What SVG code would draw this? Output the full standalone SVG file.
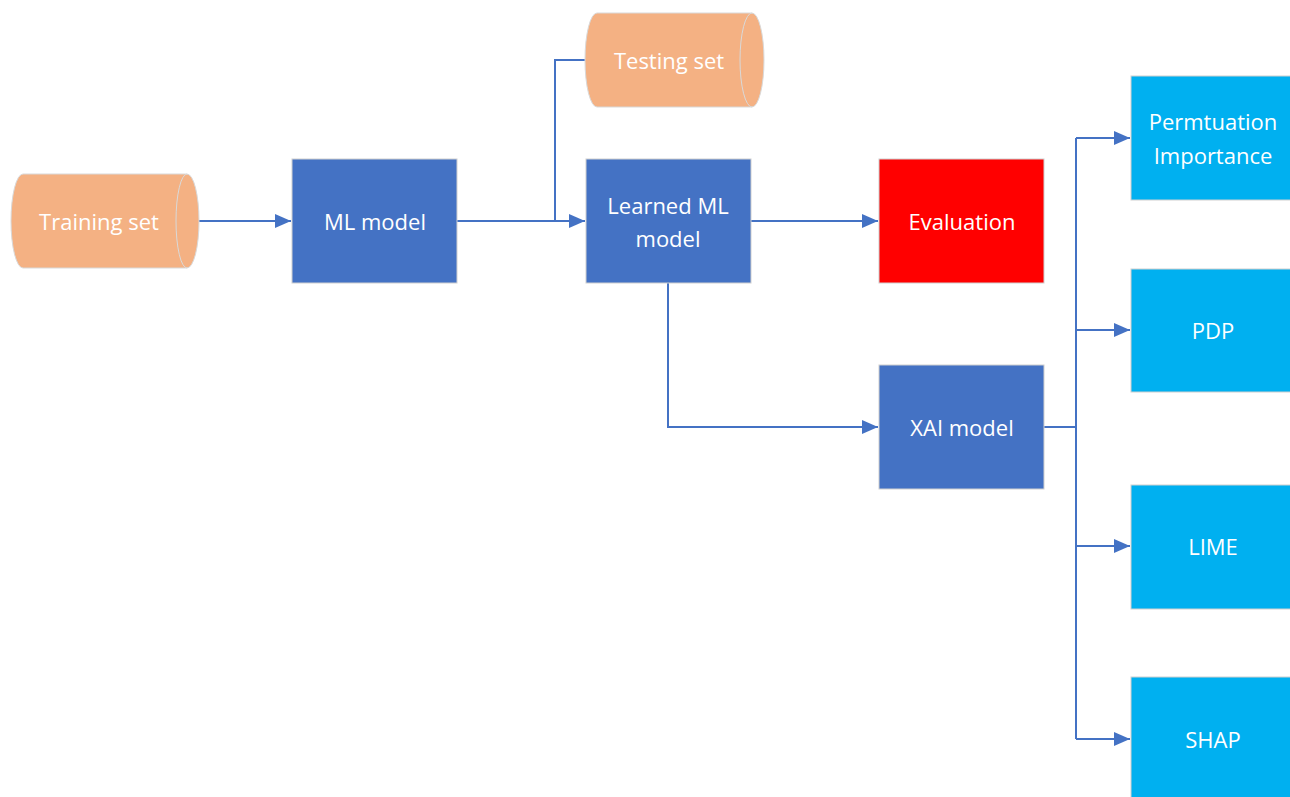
<svg xmlns="http://www.w3.org/2000/svg" width="1290" height="797" viewBox="0 0 1290 797">
<style>
.cyl{fill:#F4B183;stroke:#D9D9D9;stroke-width:1}
.inner{fill:none;stroke:#D9D9D9;stroke-width:1}
.blue{fill:#4472C4;stroke:#D0D0D0;stroke-width:1}
.red{fill:#FF0000;stroke:#D0D0D0;stroke-width:1}
.cyan{fill:#00B0F0;stroke:#D0D0D0;stroke-width:1}
.t{font-family:"Open Sans","Noto Sans",sans-serif;font-size:22px;fill:#FFFFFF;text-anchor:middle;dominant-baseline:central}
.c{fill:none;stroke:#4472C4;stroke-width:2}
</style>
<defs>
<marker id="ah" markerWidth="16" markerHeight="14" refX="16" refY="7" orient="auto" markerUnits="userSpaceOnUse">
<path d="M0,0 L16,7 L0,14 Z" fill="#4472C4"/>
</marker>
</defs>
<rect width="1290" height="797" fill="#FFFFFF"/>
<g id="connectors">
<path class="c" d="M187,221 L291,221" marker-end="url(#ah)"/>
<path class="c" d="M457,221 L585,221" marker-end="url(#ah)"/>
<path class="c" d="M585,60 L555,60 L555,221"/>
<path class="c" d="M751,221 L878,221" marker-end="url(#ah)"/>
<path class="c" d="M668,283 L668,427 L878,427" marker-end="url(#ah)"/>
<path class="c" d="M1044,427 L1076,427"/>
<path class="c" d="M1076,138 L1076,739"/>
<path class="c" d="M1076,138 L1130,138" marker-end="url(#ah)"/>
<path class="c" d="M1076,330 L1130,330" marker-end="url(#ah)"/>
<path class="c" d="M1076,546 L1130,546" marker-end="url(#ah)"/>
<path class="c" d="M1076,739 L1130,739" marker-end="url(#ah)"/>
</g>
<g id="training-set">
<path class="cyl" d="M23,174 L187,174 A12,47 0 0 1 187,268 L23,268 A12,47 0 0 1 23,174 Z"/>
<path class="inner" d="M187,174 A11,47 0 0 0 187,268"/>
<text class="t" x="99" y="221">Training set</text>
</g>
<g id="testing-set">
<path class="cyl" d="M597,13 L752,13 A12,47 0 0 1 752,107 L597,107 A12,47 0 0 1 597,13 Z"/>
<path class="inner" d="M752,13 A12,47 0 0 0 752,107"/>
<text class="t" x="669" y="60">Testing set</text>
</g>
<g id="ml-model">
<rect class="blue" x="292" y="159" width="165" height="124"/>
<text class="t" x="375" y="221">ML model</text>
</g>
<g id="learned-ml-model">
<rect class="blue" x="586" y="159" width="165" height="124"/>
<text class="t" x="668" y="205">Learned ML</text>
<text class="t" x="668" y="238">model</text>
</g>
<g id="evaluation">
<rect class="red" x="879" y="159" width="165" height="124"/>
<text class="t" x="962" y="221">Evaluation</text>
</g>
<g id="xai-model">
<rect class="blue" x="879" y="365" width="165" height="124"/>
<text class="t" x="962" y="427">XAI model</text>
</g>
<g id="permutation-importance">
<rect class="cyan" x="1131" y="76" width="165" height="124"/>
<text class="t" x="1213" y="121">Permtuation</text>
<text class="t" x="1213" y="155">Importance</text>
</g>
<g id="pdp">
<rect class="cyan" x="1131" y="269" width="165" height="123"/>
<text class="t" x="1213" y="330">PDP</text>
</g>
<g id="lime">
<rect class="cyan" x="1131" y="485" width="165" height="124"/>
<text class="t" x="1213" y="546">LIME</text>
</g>
<g id="shap">
<rect class="cyan" x="1131" y="677" width="165" height="130"/>
<text class="t" x="1213" y="739">SHAP</text>
</g>
</svg>
